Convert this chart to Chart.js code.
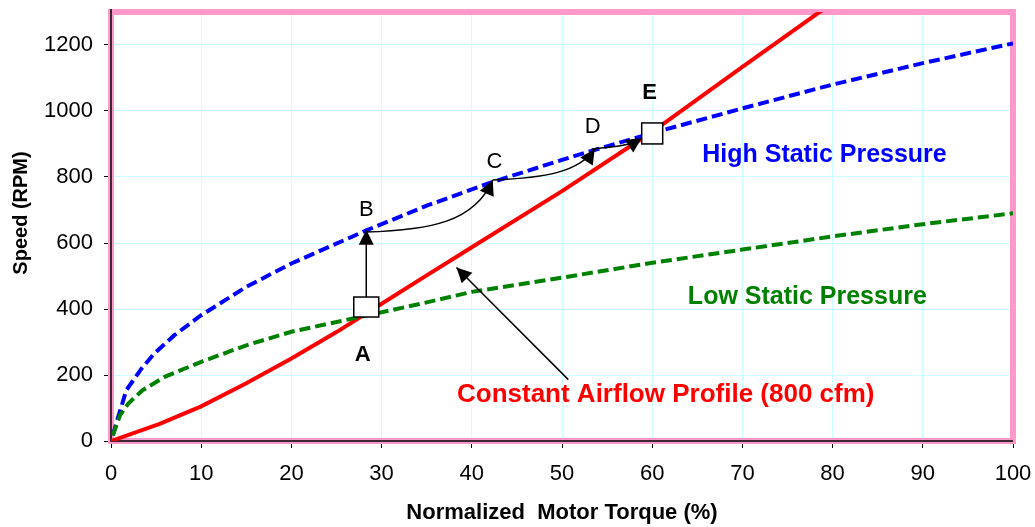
<!DOCTYPE html>
<html>
<head>
<meta charset="utf-8">
<script src="https://cdn.jsdelivr.net/npm/chart.js@4/dist/chart.umd.min.js"></script>
<style>
  html, body { margin: 0; padding: 0; background: #fff; }
  #wrap { width: 1035px; height: 527px; }
</style>
</head>
<body>
<div id="wrap"><canvas id="fanChart"></canvas></div>
<script>
// torque (%) / speed (RPM) pairs
const airflowTorque = [0, 5.4, 10, 15, 20, 25, 30, 35, 40, 50, 60, 70, 80];
const airflowSpeed  = [0, 52, 105, 175, 250, 330, 416, 502, 587, 757, 937, 1134, 1328];

const highTorque = [0.2, 0.8, 1.7, 3.4, 4.8, 7, 10, 15, 20, 28.3, 35, 42, 50, 53, 60, 70, 80, 90, 100];
const highSpeed  = [17, 73, 154, 220, 265, 320, 381, 467, 538, 638, 713, 782, 852, 877, 933, 1008, 1080, 1145, 1205];

const lowTorque = [0.2, 1, 1.9, 3.5, 6, 10, 15, 20, 28.3, 35, 40, 50, 60, 70, 80, 90, 100];
const lowSpeed  = [17, 78, 113, 154, 195, 240, 290, 331, 380, 420, 452, 495, 540, 580, 620, 657, 690];

const xTicks = [0, 10, 20, 30, 40, 50, 60, 70, 80, 90, 100];
const yTicks = [0, 200, 400, 600, 800, 1000, 1200];

function pairs(xs, ys) {
  return xs.map((x, i) => ({ x: x, y: ys[i] }));
}

const FONT = '"Liberation Sans", Arial, sans-serif';

// annotation spots, in data units
const notes = {
  boxA: [28.3, 406], boxE: [60, 932], tipB: [28.3, 640],
  curveBC: [[28.24, 633], [35.33, 639], [40.32, 663], [42.32, 791]],
  curveCD: [[42.32, 791], [48.08, 797], [51.96, 815], [53.62, 885]],
  curveDE: [[53.29, 885], [55.84, 891], [57.5, 894], [58.83, 918]],
  longArrow: [[50.7, 186], [38.3, 526]]
};

function arrowHead(ctx, x, y, ang) {
  const L = 15, W = 7.5;
  const c = Math.cos(ang), s = Math.sin(ang);
  ctx.beginPath();
  ctx.moveTo(x, y);
  ctx.lineTo(x - L * c + W * s, y - L * s - W * c);
  ctx.lineTo(x - L * c - W * s, y - L * s + W * c);
  ctx.closePath();
  ctx.fill();
}

const extras = {
  id: 'extras',
  beforeDatasetsDraw(chart) {
    const { ctx, chartArea: a } = chart;
    ctx.save();
    ctx.strokeStyle = '#ff99cc';
    ctx.lineWidth = 6;
    ctx.strokeRect(a.left, a.top, a.right - a.left, a.bottom - a.top);
    ctx.strokeStyle = '#000';
    ctx.lineWidth = 1.5;
    ctx.beginPath();
    ctx.moveTo(a.left, a.top - 3);
    ctx.lineTo(a.left, a.bottom);
    ctx.lineTo(a.right, a.bottom);
    ctx.stroke();
    ctx.restore();
  },
  afterDatasetsDraw(chart) {
    const { ctx, chartArea: a } = chart;
    const sx = chart.scales.x, sy = chart.scales.y;
    const P = p => [sx.getPixelForValue(p[0]), sy.getPixelForValue(p[1])];
    ctx.save();
    ctx.strokeStyle = '#000';
    ctx.fillStyle = '#000';
    ctx.lineWidth = 1.5;

    // A -> B vertical arrow
    const a0 = P(notes.boxA), b0 = P(notes.tipB);
    ctx.beginPath();
    ctx.moveTo(a0[0], a0[1] - 10);
    ctx.lineTo(b0[0], b0[1] + 12);
    ctx.stroke();
    arrowHead(ctx, b0[0], b0[1], -Math.PI / 2);

    // curved arrows B->C->D->E
    [notes.curveBC, notes.curveCD, notes.curveDE].forEach(cv => {
      const p = cv.map(P);
      ctx.beginPath();
      ctx.moveTo(p[0][0], p[0][1]);
      ctx.bezierCurveTo(p[1][0], p[1][1], p[2][0], p[2][1], p[3][0], p[3][1]);
      ctx.stroke();
      arrowHead(ctx, p[3][0], p[3][1], Math.atan2(p[3][1] - p[2][1], p[3][0] - p[2][0]));
    });

    // long pointer to the red curve
    const l0 = P(notes.longArrow[0]), l1 = P(notes.longArrow[1]);
    ctx.beginPath();
    ctx.moveTo(l0[0], l0[1]);
    ctx.lineTo(l1[0], l1[1]);
    ctx.stroke();
    arrowHead(ctx, l1[0], l1[1], Math.atan2(l1[1] - l0[1], l1[0] - l0[0]));

    // boxes
    ctx.fillStyle = '#fff';
    ctx.fillRect(a0[0] - 12.5, a0[1] - 10, 25, 20);
    ctx.strokeRect(a0[0] - 12.5, a0[1] - 10, 25, 20);
    const e0 = P(notes.boxE);
    ctx.fillRect(e0[0] - 10.5, e0[1] - 10.5, 21, 21);
    ctx.strokeRect(e0[0] - 10.5, e0[1] - 10.5, 21, 21);

    // point letters
    ctx.textAlign = 'center';
    ctx.textBaseline = 'middle';
    ctx.fillStyle = '#000';
    ctx.font = '22px ' + FONT;
    [['B', 28.3, 700], ['C', 42.5, 846], ['D', 53.4, 952]].forEach(t => {
      const q = P([t[1], t[2]]);
      ctx.fillText(t[0], q[0], q[1]);
    });
    ctx.font = 'bold 22px ' + FONT;
    [['A', 27.9, 260], ['E', 59.7, 1054]].forEach(t => {
      const q = P([t[1], t[2]]);
      ctx.fillText(t[0], q[0], q[1]);
    });

    // curve labels
    [['High Static Pressure', '#0000ff', 79.1, 867, 25],
     ['Low Static Pressure', '#008000', 77.2, 437, 25],
     ['Constant Airflow Profile (800 cfm)', '#ff0000', 61.5, 139, 26]].forEach(t => {
      const q = P([t[2], t[3]]);
      ctx.font = 'bold ' + t[4] + 'px ' + FONT;
      ctx.fillStyle = t[1];
      ctx.fillText(t[0], q[0], q[1]);
    });

    // axis titles
    ctx.fillStyle = '#000';
    ctx.font = 'bold 22px ' + FONT;
    ctx.fillText('Normalized  Motor Torque (%)', (a.left + a.right) / 2, a.bottom + 72);
    ctx.translate(21, 213);
    ctx.rotate(-Math.PI / 2);
    ctx.font = 'bold 20px ' + FONT;
    ctx.fillText('Speed (RPM)', 0, 0);
    ctx.restore();
  }
};

const lineStyle = (color, dash) => ({
  borderColor: color,
  borderWidth: 4,
  borderDash: dash,
  showLine: true,
  pointRadius: 0,
  tension: 0,
  fill: false
});

new Chart(document.getElementById('fanChart'), {
  type: 'scatter',
  data: {
    datasets: [
      Object.assign({ label: 'Low Static Pressure', data: pairs(lowTorque, lowSpeed) }, lineStyle('#008000', [11, 5])),
      Object.assign({ label: 'High Static Pressure', data: pairs(highTorque, highSpeed) }, lineStyle('#0000ff', [11, 5])),
      Object.assign({ label: 'Constant Airflow Profile (800 cfm)', data: pairs(airflowTorque, airflowSpeed) }, lineStyle('#ff0000', []))
    ]
  },
  options: {
    responsive: true,
    maintainAspectRatio: false,
    animation: false,
    layout: { padding: { left: 0, right: 22, top: 12, bottom: 0 } },
    plugins: {
      legend: { display: false },
      tooltip: { enabled: false }
    },
    scales: {
      x: {
        type: 'linear',
        min: 0,
        max: 100,
        afterBuildTicks: s => { s.ticks = xTicks.map(v => ({ value: v })); },
        afterFit: s => { s.height = 86; s.paddingLeft = 0; s.paddingRight = 0; },
        grid: { color: '#ccffff', tickColor: '#000', tickLength: 7, lineWidth: 1 },
        border: { display: false },
        ticks: { color: '#000', font: { family: FONT, size: 22 }, padding: 13, maxRotation: 0,
                 callback: v => String(v) }
      },
      y: {
        type: 'linear',
        min: 0,
        max: 1300,
        afterBuildTicks: s => { s.ticks = yTicks.map(v => ({ value: v })); },
        afterFit: s => { s.width = 111; s.paddingTop = 0; s.paddingBottom = 0; },
        grid: { color: '#ccffff', tickColor: '#000', tickLength: 7, lineWidth: 1 },
        border: { display: false },
        ticks: { color: '#000', font: { family: FONT, size: 22 }, padding: 11,
                 callback: v => String(v) }
      }
    }
  },
  plugins: [extras]
});
</script>
</body>
</html>
